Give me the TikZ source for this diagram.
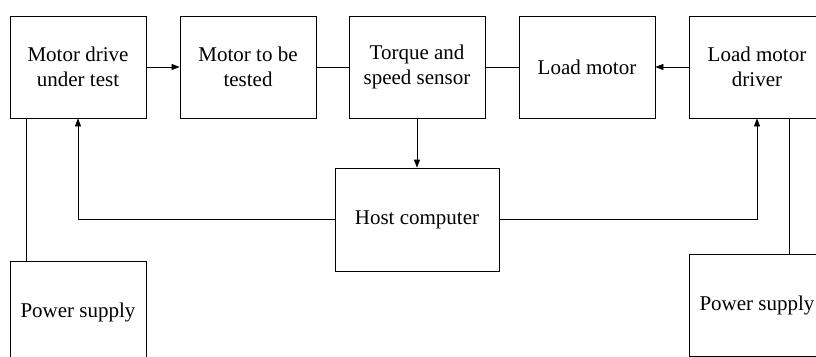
\documentclass[tikz,border=0pt]{standalone}
\usepackage{fontspec}
\setmainfont{Liberation Serif}
\usetikzlibrary{arrows.meta}
\begin{document}
\begin{tikzpicture}[x=1pt,y=-1pt,
  blk/.style={draw, line width=0.8pt, minimum width=136pt, minimum height=102pt, align=center, inner sep=0pt, font=\fontsize{21}{25}\selectfont},
  conn/.style={line width=0.8pt},
  arr/.style={conn, -{Triangle[length=8pt,width=6pt]}}]
\useasboundingbox (0,0) rectangle (816,356);
\clip (0,0) rectangle (816,356);
\node[blk] (b1) at (78,67) {Motor drive\\under test};
\node[blk] (b2) at (248,67) {Motor to be\\tested};
\node[blk] (b3) at (417,67) {Torque and\\speed sensor};
\node[blk] (b4) at (587,67) {Load motor};
\node[blk] (b5) at (757,67) {Load motor\\driver};
\node[blk, minimum width=164pt, minimum height=103pt] (host) at (417,219.5) {Host computer};
\node[blk] (ps1) at (78,312) {Power supply};
\node[blk] (ps2) at (757,305) {Power supply};
\draw[arr] (b1.east) -- (b2.west);
\draw[conn] (b2.east) -- (b3.west);
\draw[conn] (b3.east) -- (b4.west);
\draw[arr] (b5.west) -- (b4.east);
\draw[arr] (b3.south) -- (host.north);
\draw[arr] (host.west) -| (b1.south);
\draw[arr] (host.east) -| (b5.south);
\draw[conn] ([xshift=17pt]b1.south west) -- ([xshift=17pt]ps1.north west);
\draw[conn] ([xshift=101pt]b5.south west) -- ([xshift=101pt]ps2.north west);
\end{tikzpicture}
\end{document}
